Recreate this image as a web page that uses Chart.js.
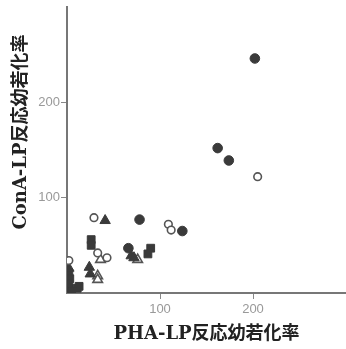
<!DOCTYPE html>
<html>
<head>
<meta charset="utf-8">
<script src="https://cdn.jsdelivr.net/npm/chart.js@4/dist/chart.umd.min.js"></script>
<style>
  html, body { margin: 0; padding: 0; background: #fff; overflow: hidden; }
  canvas { display: block; }
</style>
</head>
<body>
<canvas id="scatterChart" width="346" height="349"></canvas>
<script>
// values (PHA-LP x, ConA-LP y)
var filledCircleX = [202, 162, 174, 78, 124, 66];
var filledCircleY = [246, 152, 139, 77, 65, 47];

var openCircleX = [205, 29, 109, 112, 33, 43, 2];
var openCircleY = [122, 79, 72, 66, 42, 37, 34];

var filledTriX = [41, 69, 72, 24, 25, 2];
var filledTriY = [76, 39, 37, 27, 20, 26];

var openTriX = [76, 36, 33, 33];
var openTriY = [35, 35, 18, 14];

var filledSqX = [26, 26, 90, 87, 2, 3, 2, 2, 13, 11, 5];
var filledSqY = [56, 50, 47, 41, 21, 15, 10, 5, 7, 5, 2];

var tickValues = [100, 200];
var xTitle = "PHA-LP反応幼若化率";
var yTitle = "　　ConA-LP反応幼若化率";

function pairs(xs, ys) {
  var out = [];
  for (var i = 0; i < xs.length; i++) out.push({x: xs[i], y: ys[i]});
  return out;
}

var dark = '#3a3a3a';
var titleFont = { family: "'DejaVu Serif', 'Noto Sans CJK JP', serif", size: 18, weight: 'bold' };
var tickFont = { family: "'Liberation Sans', sans-serif", size: 13 };

var ctx = document.getElementById("scatterChart").getContext('2d');
var myChart = new Chart(ctx, {
  type: 'scatter',
  data: {
    datasets: [{
      label: '●',
      data: pairs(filledCircleX, filledCircleY),
      pointStyle: 'circle', pointRadius: 4.8,
      backgroundColor: dark, borderColor: dark, borderWidth: 1
    }, {
      label: '○',
      data: pairs(openCircleX, openCircleY),
      pointStyle: 'circle', pointRadius: 3.8,
      backgroundColor: '#fff', borderColor: '#555', borderWidth: 1.6
    }, {
      label: '▲',
      data: pairs(filledTriX, filledTriY),
      pointStyle: 'triangle', pointRadius: 6,
      backgroundColor: dark, borderColor: dark, borderWidth: 1
    }, {
      label: '△',
      data: pairs(openTriX, openTriY),
      pointStyle: 'triangle', pointRadius: 5.5,
      backgroundColor: '#fff', borderColor: '#555', borderWidth: 1.6
    }, {
      label: '■',
      data: pairs(filledSqX, filledSqY),
      pointStyle: 'rect', pointRadius: 5.5,
      backgroundColor: dark, borderColor: dark, borderWidth: 1
    }]
  },
  options: {
    responsive: false,
    animation: false,
    layout: { autoPadding: false, padding: { top: 7, right: 0, left: 0, bottom: 0 } },
    plugins: {
      legend: { display: false },
      tooltip: { enabled: false }
    },
    scales: {
      x: {
        type: 'linear', min: 0, max: 300,
        afterFit: function (scale) {
          scale.height = 56;
          scale.paddingLeft = 0;
          scale.paddingRight = 0;
        },
        afterBuildTicks: function (scale) {
          scale.ticks = tickValues.map(function (v) { return {value: v}; });
        },
        border: { display: true, color: '#777', width: 2 },
        grid: { drawOnChartArea: false, drawTicks: true, tickLength: 6, color: '#888' },
        ticks: { color: '#999', font: tickFont, padding: 3, maxRotation: 0 },
        title: { display: true, text: xTitle, color: '#222', font: titleFont, padding: { top: 0, bottom: 4 } }
      },
      y: {
        type: 'linear', min: 0, max: 300,
        afterFit: function (scale) {
          scale.width = 67;
          scale.paddingTop = 0;
          scale.paddingBottom = 0;
        },
        afterBuildTicks: function (scale) {
          scale.ticks = tickValues.map(function (v) { return {value: v}; });
        },
        border: { display: true, color: '#777', width: 2 },
        grid: { drawOnChartArea: false, drawTicks: true, tickLength: 6, color: '#888' },
        ticks: { color: '#999', font: tickFont, padding: 1 },
        title: { display: true, text: yTitle, color: '#222', font: titleFont, padding: { top: 11, bottom: 0 } }
      }
    }
  }
});
</script>
</body>
</html>
